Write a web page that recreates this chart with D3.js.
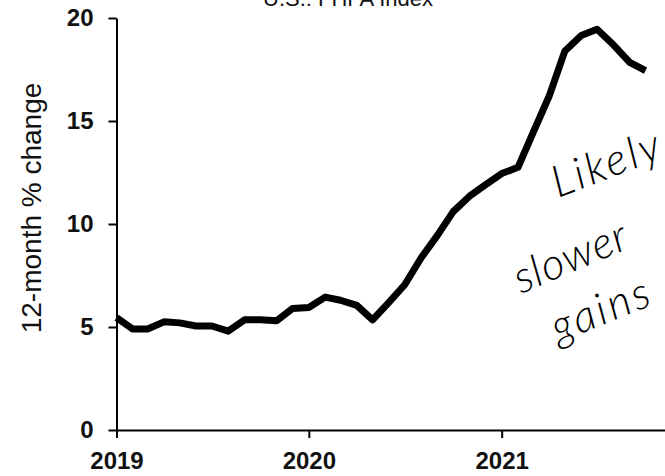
<!DOCTYPE html>
<html>
<head>
<meta charset="utf-8">
<script src="https://cdn.jsdelivr.net/npm/d3@7"></script>
<style>
  html, body { margin: 0; padding: 0; background: #fff; }
  svg { display: block; }
</style>
</head>
<body>
<svg id="chart" width="665" height="476"></svg>
<script>
// ---- data ----
const title = "U.S.: FHFA Index";
const yLabel = "12-month % change";
const months = [
  "2019-01","2019-02","2019-03","2019-04","2019-05","2019-06","2019-07","2019-08","2019-09","2019-10","2019-11","2019-12",
  "2020-01","2020-02","2020-03","2020-04","2020-05","2020-06","2020-07","2020-08","2020-09","2020-10","2020-11","2020-12",
  "2021-01","2021-02","2021-03","2021-04","2021-05","2021-06","2021-07","2021-08","2021-09","2021-10"
];
const values = [
  5.45, 4.9, 4.9, 5.25, 5.2, 5.05, 5.05, 4.8, 5.35, 5.35, 5.3, 5.9,
  5.95, 6.45, 6.3, 6.05, 5.35, 6.2, 7.05, 8.35, 9.45, 10.6, 11.35, 11.9,
  12.45, 12.75, 14.4, 16.2, 18.4, 19.15, 19.45, 18.7, 17.85, 17.45
];
const yTicks = [0, 5, 10, 15, 20];
const xTickYears = ["2019", "2020", "2021"];
const annotation = ["Likely", "slower", "gains"];

// ---- chart ----
const svg = d3.select("#chart");
const parse = d3.timeParse("%Y-%m");
const series = months.map((m, i) => ({ date: parse(m), value: values[i] }));

const x = d3.scaleTime()
  .domain([new Date(2019, 0, 1), new Date(2022, 0, 1)])
  .range([116.5, 694]);
const y = d3.scaleLinear().domain([0, 20]).range([430, 18]);

const font = "'Liberation Sans', Arial, sans-serif";

// title (cut off at top, as in the source)
svg.append("text")
  .attr("x", 348).attr("y", 6)
  .attr("text-anchor", "middle")
  .style("font-family", font).style("font-size", "22px")
  .attr("fill", "#111")
  .text(title);

// y axis
const yAxis = svg.append("g")
  .attr("transform", "translate(116.5,0)")
  .call(d3.axisLeft(y).tickValues(yTicks).tickSize(8).tickSizeOuter(0).tickPadding(15));
yAxis.select(".domain").attr("stroke", "#000").attr("stroke-width", 2);
yAxis.selectAll(".tick line").attr("stroke", "#000").attr("stroke-width", 2);
yAxis.selectAll(".tick text")
  .style("font-family", font).style("font-size", "24px").style("font-weight", "bold")
  .attr("fill", "#111");

// x axis
const xAxis = svg.append("g")
  .attr("transform", "translate(0,430)")
  .call(d3.axisBottom(x)
    .tickValues(xTickYears.map(s => d3.timeParse("%Y")(s)))
    .tickFormat(d3.timeFormat("%Y"))
    .tickSize(8).tickSizeOuter(0).tickPadding(14));
xAxis.select(".domain").attr("stroke", "#000").attr("stroke-width", 2);
xAxis.selectAll(".tick line").attr("stroke", "#000").attr("stroke-width", 2);
xAxis.selectAll(".tick text")
  .style("font-family", font).style("font-size", "24px").style("font-weight", "bold")
  .attr("fill", "#111");

// y label
svg.append("text")
  .attr("transform", "translate(41,208) rotate(-90)")
  .attr("text-anchor", "middle")
  .style("font-family", font).style("font-size", "28px")
  .attr("fill", "#111")
  .text(yLabel);

// line
const line = d3.line().x(d => x(d.date)).y(d => y(d.value));
svg.append("path")
  .datum(series)
  .attr("d", line)
  .attr("fill", "none")
  .attr("stroke", "#000")
  .attr("stroke-width", 7)
  .attr("stroke-linejoin", "round");

// handwritten annotation (runs off the right edge, as in the source)
const notePos = [
  { x: 558, y: 198, size: 44, rot: -21, ls: 3 },
  { x: 521, y: 294, size: 44, rot: -23, ls: 1 },
  { x: 558, y: 343, size: 44, rot: -22, ls: 3 }
];
annotation.forEach((t, i) => {
  const p = notePos[i];
  svg.append("text")
    .attr("transform", `translate(${p.x},${p.y}) rotate(${p.rot})`)
    .style("font-family", "Lato, 'Open Sans', sans-serif")
    .style("font-size", p.size + "px")
    .style("font-style", "italic")
    .style("font-weight", "300")
    .style("letter-spacing", p.ls + "px")
    .attr("fill", "#000")
    .text(t);
});
</script>
</body>
</html>
